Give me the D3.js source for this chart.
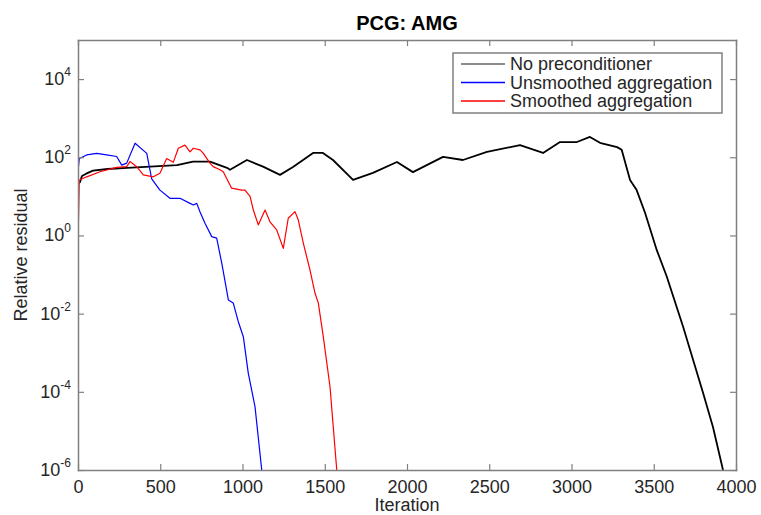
<!DOCTYPE html>
<html><head><meta charset="utf-8">
<script src="https://cdn.jsdelivr.net/npm/d3@7"></script>
<style>body{margin:0;background:#fff}</style>
</head><body><svg id="c" width="761" height="515"></svg>
<script>
// ---- data (iteration, log10 of relative residual) ----
const xTicks = [0, 500, 1000, 1500, 2000, 2500, 3000, 3500, 4000];
const yTickExps = [-6, -4, -2, 0, 2, 4];
const seriesNames = ["No preconditioner", "Unsmoothed aggregation", "Smoothed aggregation"];
const seriesColors = ["#000000", "#0000ff", "#ff0000"];

const noPrecIter = [0, 12, 24, 50, 91, 180, 298, 438, 602, 699, 802, 906, 924, 1027, 1125, 1228, 1307, 1429, 1489, 1550, 1672, 1793, 1939, 2036, 2219, 2340, 2486, 2687, 2827, 2930, 3033, 3112, 3173, 3277, 3305, 3356, 3396, 3447, 3518, 3579, 3678, 3739, 3800, 3860, 3921];
const noPrecLog = [1.33, 1.36, 1.52, 1.58, 1.66, 1.70, 1.73, 1.76, 1.80, 1.89, 1.89, 1.73, 1.68, 1.93, 1.76, 1.55, 1.75, 2.11, 2.11, 1.93, 1.42, 1.60, 1.88, 1.62, 2.01, 1.93, 2.14, 2.31, 2.11, 2.39, 2.39, 2.52, 2.37, 2.26, 2.19, 1.42, 1.16, 0.58, -0.37, -1.05, -2.33, -3.18, -4.03, -4.90, -6.0];

const unsmIter = [1, 8, 53, 114, 174, 235, 266, 296, 347, 418, 448, 498, 559, 620, 681, 701, 722, 742, 772, 813, 843, 874, 914, 944, 974, 1005, 1035, 1076, 1117];
const unsmLog = [1.68, 1.97, 2.06, 2.10, 2.06, 2.02, 1.80, 1.85, 2.36, 2.10, 1.45, 1.16, 0.95, 0.95, 0.82, 0.78, 0.82, 0.60, 0.31, -0.03, -0.07, -0.71, -1.65, -1.73, -2.20, -2.59, -3.52, -4.38, -6.0];

const smIter = [1, 8, 53, 134, 235, 296, 316, 357, 397, 458, 498, 539, 579, 610, 650, 681, 701, 742, 762, 802, 822, 863, 883, 934, 995, 1015, 1046, 1066, 1096, 1137, 1167, 1208, 1248, 1278, 1319, 1339, 1370, 1410, 1441, 1461, 1491, 1532, 1573];
const smLog = [0.0, 1.42, 1.50, 1.63, 1.74, 1.76, 1.89, 1.76, 1.55, 1.50, 1.59, 1.97, 1.87, 2.23, 2.31, 2.14, 2.23, 2.19, 2.10, 1.85, 1.76, 1.68, 1.63, 1.21, 1.16, 1.16, 1.0, 0.65, 0.27, 0.65, 0.35, 0.14, -0.33, 0.44, 0.61, 0.40, -0.20, -0.88, -1.48, -1.73, -2.59, -3.87, -6.0];

const seriesIter = [noPrecIter, unsmIter, smIter];
const seriesLog = [noPrecLog, unsmLog, smLog];

// ---- layout ----
const W = 761, H = 515;
const m = {left: 78, right: 25, top: 40, bottom: 45};
const pw = W - m.left - m.right, ph = H - m.top - m.bottom;
const FONT = "'Liberation Sans', Arial, Helvetica, sans-serif";
const TXT = "#262626", AX = "#808080";

const svg = d3.select("#c").style("font-family", FONT);
const x = d3.scaleLinear().domain([0, 4000]).range([m.left, m.left + pw]);
const y = d3.scaleLog().domain([1e-6, 1e5]).range([m.top + ph, m.top]);

svg.append("defs").append("clipPath").attr("id", "clip")
  .append("rect").attr("x", m.left).attr("y", m.top).attr("width", pw).attr("height", ph);

// lines
const line = d3.line().x(d => x(d[0])).y(d => y(Math.pow(10, d[1])));
const g = svg.append("g").attr("clip-path", "url(#clip)");
seriesIter.forEach((it, i) => {
  const pts = it.map((v, j) => [v, seriesLog[i][j]]);
  g.append("path").datum(pts).attr("d", line).attr("fill", "none")
    .attr("stroke", seriesColors[i]).attr("stroke-width", i === 0 ? 1.8 : 1.2)
    .attr("stroke-linejoin", "round");
});

// axes
function styleAxis(sel) {
  sel.selectAll("path.domain").attr("stroke", AX).attr("stroke-width", 1.5);
  sel.selectAll(".tick line").attr("stroke", AX).attr("stroke-width", 1.2);
  sel.selectAll("text").attr("fill", TXT).style("font-size", "18px").style("font-family", FONT);
}
const yTickVals = yTickExps.map(e => Math.pow(10, e));
svg.append("g").attr("transform", `translate(0,${m.top + ph})`)
  .call(d3.axisBottom(x).tickValues(xTicks).tickFormat(d3.format("d")).tickSize(-6).tickSizeOuter(0).tickPadding(10))
  .call(styleAxis);
svg.append("g").attr("transform", `translate(0,${m.top})`)
  .call(d3.axisTop(x).tickValues(xTicks).tickFormat("").tickSize(-6).tickSizeOuter(0))
  .call(styleAxis);
svg.append("g").attr("transform", `translate(${m.left},0)`)
  .call(d3.axisLeft(y).tickValues(yTickVals).tickFormat("").tickSize(-6).tickSizeOuter(0))
  .call(styleAxis);
svg.append("g").attr("transform", `translate(${m.left + pw},0)`)
  .call(d3.axisRight(y).tickValues(yTickVals).tickFormat("").tickSize(-6).tickSizeOuter(0))
  .call(styleAxis);
svg.selectAll(".domain").attr("stroke-linecap", "square");

// y tick labels 10^n
yTickExps.forEach(e => {
  const t = svg.append("text").attr("x", 71).attr("y", y(Math.pow(10, e)) + 6)
    .attr("text-anchor", "end").attr("fill", TXT).style("font-size", "18px");
  t.append("tspan").text("10");
  t.append("tspan").attr("dy", -9).style("font-size", "12px").text(String(e));
});

// title and labels
svg.append("text").attr("x", m.left + pw / 2).attr("y", 30).attr("text-anchor", "middle")
  .attr("fill", "#000").style("font-size", "20px").style("font-weight", "bold").text("PCG: AMG");
svg.append("text").attr("x", m.left + pw / 2).attr("y", 511).attr("text-anchor", "middle")
  .attr("fill", TXT).style("font-size", "18px").text("Iteration");
svg.append("text").attr("transform", `translate(27,${m.top + ph / 2}) rotate(-90)`)
  .attr("text-anchor", "middle").attr("fill", TXT).style("font-size", "18px").text("Relative residual");

// legend
const lg = svg.append("g");
lg.append("rect").attr("x", 453).attr("y", 53).attr("width", 269).attr("height", 60)
  .attr("fill", "#fff").attr("stroke", AX).attr("stroke-width", 1.5);
seriesNames.forEach((n, i) => {
  const yy = 64 + i * 18.5;
  lg.append("line").attr("x1", 461).attr("x2", 505).attr("y1", yy).attr("y2", yy)
    .attr("stroke", seriesColors[i]).attr("stroke-width", 1.5).attr("opacity", i === 0 ? 0.6 : 1);
  lg.append("text").attr("x", 510).attr("y", yy + 6).attr("fill", TXT)
    .style("font-size", "18px").text(n);
});
</script>
</body></html>
